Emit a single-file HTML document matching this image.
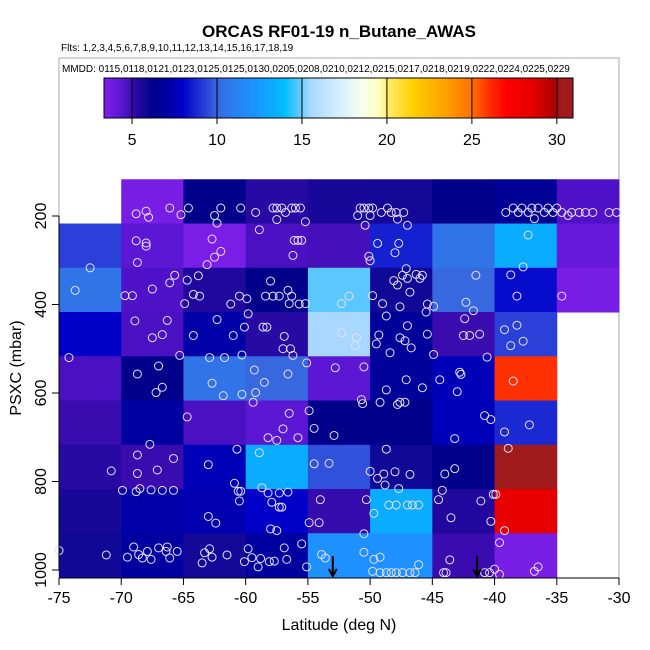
<!DOCTYPE html>
<html><head><meta charset="utf-8">
<style>
html,body{margin:0;padding:0;background:#fff;}
svg{display:block;font-family:"Liberation Sans",sans-serif;}
</style></head>
<body>
<svg id="chart" width="650" height="650" viewBox="0 0 650 650" xmlns="http://www.w3.org/2000/svg">
  <rect width="650" height="650" fill="#fff"/>
  <text x="339" y="37" text-anchor="middle" font-size="17" font-weight="bold">ORCAS RF01-19 n_Butane_AWAS</text>
  <text x="61" y="51" font-size="10">Flts: 1,2,3,4,5,6,7,8,9,10,11,12,13,14,15,16,17,18,19</text>
  <rect x="59" y="58" width="560" height="520" fill="none" stroke="#aaa" stroke-width="1"/>
  <text x="62" y="72" font-size="10">MMDD: 0115,0118,0121,0123,0125,0125,0130,0205,0208,0210,0212,0215,0217,0218,0219,0222,0224,0225,0229</text>
  <g id="colorbar"></g>
  <g id="cells"></g>
  <g id="points"></g>
  <g id="arrows"></g>
  <g id="axes"></g>
  <text transform="translate(21,368) rotate(-90)" text-anchor="middle" font-size="16">PSXC (mbar)</text>
  <text x="339" y="630" text-anchor="middle" font-size="16">Latitude (deg N)</text>
</svg>
<script>
const latEdges = [-75,-70,-65,-60,-55,-50,-45,-40,-35,-30];
const presEdges = [117,217,317,417,517,617,717,817,917,1017];
// cell values: rows top (117) to bottom, columns -75 .. -30
const row0 = [null,3.6,6.2,5.3,5.6,5.7,6.2,6.6,4.6];
const row1 = [9.3,4.3,3.5,4.7,4.8,8.6,10.5,13.3,4.0];
const row2 = [10.5,4.6,5.4,6.2,14.8,5.8,10.0,8.2,3.6];
const row3 = [8.0,4.7,7.2,5.3,15.5,6.8,5.0,9.3,null];
const row4 = [4.7,6.2,10.5,10.0,4.3,6.8,7.6,26,null];
const row5 = [5.0,7.0,4.7,4.3,6.2,6.2,7.6,8.8,null];
const row6 = [5.3,5.0,7.6,13.3,9.6,5.8,6.2,30.5,null];
const row7 = [5.6,7.2,7.4,8.0,5.1,13.3,5.4,28.5,null];
const row8 = [5.8,7.0,5.7,7.0,12,12,5.0,3.6,null];
const cellRows = [row0,row1,row2,row3,row4,row5,row6,row7,row8];
const xTicks = [-75,-70,-65,-60,-55,-50,-45,-40,-35,-30];
const yTicks = [200,400,600,800,1000];
const cbTicks = [5,10,15,20,25,30];
const cbMin = 3.35, cbMax = 30.95;
const arrowLats = [-53.0,-41.4];
const ptLat = [-68.8,-68.0,-67.8,-66.1,-65.2,-64.6,-62.5,-62.3,-62.0,-60.4,-59.2,-57.8,-57.5,-57.1,-56.8,-57.5,-56.3,-56.0,-55.6,-55.2,-50.8,-50.5,-50.1,-49.8,-51.0,-50.0,-50.4,-49.1,-48.6,-48.3,-47.9,-47.3,-47.8,-47.0,-39.1,-38.5,-38.1,-37.8,-37.3,-37.0,-36.8,-36.5,-36.0,-35.7,-35.3,-35.0,-34.6,-34.1,-33.8,-33.2,-32.7,-32.1,-30.8,-30.2,
-68.8,-68.0,-68.0,-68.7,-62.7,-62.0,-62.5,-63.1,-58.9,-56.1,-55.8,-55.5,-56.2,-50.1,-50.0,-49.4,-47.7,-48.0,-37.3,-37.7,-72.5,
-73.7,-69.7,-69.1,-67.5,-66.1,-65.7,-64.7,-63.8,-64.2,-63.7,-64.9,-61.2,-60.5,-59.9,-58.0,-58.4,-57.8,-57.3,-56.6,-56.3,-56.5,-55.7,-55.2,-51.7,-52.3,-49.8,-49.0,-47.6,-48.1,-47.8,-47.4,-47.1,-47.0,-46.8,-46.3,-45.8,-46.0,-45.4,-44.9,-45.5,-41.5,-42.3,-41.7,-38.7,-38.2,-34.6,
-68.9,-66.3,-67.5,-66.7,-65.3,-62.3,-64.2,-61.0,-60.1,-59.8,-58.6,-58.3,-56.9,-57.0,-56.4,-56.2,-52.3,-51.1,-51.2,-48.7,-49.3,-49.5,-47.6,-47.2,-46.7,-47.0,-48.4,-45.4,-44.9,-42.4,-42.5,-42.0,-41.2,-39.2,-38.2,-38.7,-37.7,
-74.2,-68.7,-67.0,-67.2,-66.7,-62.9,-61.7,-60.3,-62.7,-61.8,-60.3,-59.3,-58.5,-59.2,-56.6,-59.4,-55.1,-52.8,-50.5,-47.1,-48.7,-45.8,-49.2,-47.6,-47.2,-47.8,-50.7,-50.6,-44.4,-42.8,-42.7,-43.0,-40.6,-38.5,
-64.7,-56.5,-57.0,-58.2,-57.5,-55.8,-54.9,-54.5,-52.9,-40.8,-40.3,-43.2,-39.2,-37.2,-67.7,
-68.7,-65.8,-70.8,-68.7,-67.1,-60.7,-63.0,-58.9,-54.5,-53.3,-48.7,-50.0,-49.4,-48.9,-48.0,-46.8,-48.8,-43.2,-44.0,-38.9,-60.9,-69.9,-68.8,-68.5,-67.6,-66.7,-65.8,
-60.6,-60.4,-60.5,-58.7,-58.2,-57.3,-56.6,-57.9,-57.3,-57.1,-63.0,-62.4,-58.0,-57.5,-54.9,-54.1,-54.0,-50.3,-49.7,-47.7,-48.5,-47.9,-47.0,-46.6,-46.1,-44.2,-44.5,-41.1,-40.1,-39.9,-43.5,-40.3,-39.2,
-75.0,-71.2,-69.5,-69.0,-68.3,-67.9,-67.6,-67.0,-66.3,-66.4,-66.1,-65.5,-68.6,-63.5,-63.3,-62.9,-62.7,-61.5,-59.8,-60.1,-59.5,-59.0,-58.8,-58.1,-57.7,-56.9,-56.7,-55.5,-55.1,-53.9,-53.6,-50.5,-50.5,-49.7,-49.2,-46.1,-49.8,-49.2,-48.7,-48.3,-47.9,-47.4,-46.8,-46.4,-43.6,-43.9,-44.1,-40.8,-40.4,-40.0,-39.6,-39.6,-36.5,-36.8];
const ptPres = [195,189,203,182,197,182,199,216,182,182,192,182,182,182,192,208,182,182,182,213,182,182,182,182,199,199,221,192,182,192,192,192,207,221,192,182,192,182,192,182,206,182,192,182,192,182,192,199,192,192,192,192,192,192,
256,261,268,305,252,280,293,310,231,255,255,255,289,291,301,262,262,283,243,315,317,
368,380,380,365,351,334,345,335,377,381,398,399,381,387,347,381,381,381,368,381,398,399,398,381,398,380,398,405,346,356,334,319,341,372,332,334,341,399,404,417,334,395,414,333,381,381,
437,436,475,468,515,434,470,470,451,421,451,451,472,500,500,515,464,475,493,426,469,489,475,482,498,448,509,467,513,432,470,470,467,457,447,493,483,
520,557,539,599,587,520,520,514,578,606,603,548,576,599,557,621,532,543,541,570,593,588,621,621,621,626,615,624,570,553,558,597,519,573,
654,646,681,701,707,701,640,680,696,651,660,703,688,672,716,
740,748,776,782,774,727,762,735,760,759,727,777,793,783,778,784,808,771,783,725,804,820,823,816,819,820,820,
822,822,844,814,826,826,824,847,858,858,879,894,907,911,893,893,841,841,872,816,853,853,853,853,853,820,841,844,829,829,882,890,911,
956,966,971,948,973,958,976,950,948,958,973,958,965,984,961,952,971,966,952,981,972,993,974,981,980,950,976,941,993,965,973,960,918,976,971,988,1003,1006,1006,1006,1006,1006,1006,1006,977,1006,1006,1006,1006,998,1010,938,993,1003];

const stops = [[3.4,"#7e1ee8"],[4.2,"#6018d8"],[4.6,"#5012c8"],[5.0,"#3a0cb0"],[5.4,"#20089e"],[5.8,"#100896"],[6.2,"#00008a"],[7.0,"#0000a0"],[8.0,"#0000c8"],[8.6,"#1520d0"],[9.3,"#2a40d8"],[10.0,"#3868e0"],[11.0,"#2a80f0"],[12.0,"#1e90ff"],[13.3,"#0aacff"],[14.0,"#00c0ff"],[14.8,"#5ac8ff"],[15.5,"#a8d8ff"],[17,"#d0ecff"],[18.5,"#f4fff0"],[19.5,"#ffffc0"],[20.2,"#ffe860"],[21.5,"#ffd000"],[23.5,"#ffa000"],[25,"#ff7000"],[26,"#ff3000"],[27,"#ff0000"],[28.5,"#e80000"],[29.8,"#b00000"],[30.3,"#a01c1c"],[31,"#a01c1c"]];
function hex(c){return [1,3,5].map(i=>parseInt(c.substr(i,2),16));}
function cmap(v){
  if(v<=stops[0][0]) return stops[0][1];
  for(let i=1;i<stops.length;i++){
    if(v<=stops[i][0]){
      const a=hex(stops[i-1][1]),b=hex(stops[i][1]);
      const t=(v-stops[i-1][0])/(stops[i][0]-stops[i-1][0]);
      return "rgb("+a.map((x,k)=>Math.round(x+(b[k]-x)*t)).join(",")+")";
    }
  }
  return stops[stops.length-1][1];
}
const X = lat => 59 + (lat + 75) * 560 / 45;
const Y = p => 216 + (p - 200) * 0.4425;
const CB = v => 104 + (v - cbMin) * (573 - 104) / (cbMax - cbMin);
const NS = "http://www.w3.org/2000/svg";
function mk(tag, attrs, parent){
  const e = document.createElementNS(NS, tag);
  for (const k in attrs) e.setAttribute(k, attrs[k]);
  parent.appendChild(e);
  return e;
}
// colorbar
const cb = document.getElementById('colorbar');
for (let v = cbMin; v < cbMax; v += 0.1) {
  const r = mk('rect', {x: CB(v), y: 78, width: CB(v+0.1)-CB(v)+0.4, height: 40, fill: cmap(v+0.05)}, cb);
  
  
}
const cbBorder = mk('rect', {x: 104, y: 78, width: 469, height: 40, fill: 'none', stroke: '#000', 'stroke-width': 1}, cb);


cbTicks.forEach(t => {
  const l = mk('line', {x1: CB(t), x2: CB(t), y1: 78, y2: 124, stroke: '#000', 'stroke-width': 1}, cb);
  
  
  const tx = mk('text', {x: CB(t), y: 145, 'text-anchor': 'middle', 'font-size': 16}, cb);
  tx.textContent = t;
  
  
});
// cells
const cg = document.getElementById('cells');
cellRows.forEach((row, ri) => {
  row.forEach((v, ci) => {
    if (v === null) return;
    const x0 = X(latEdges[ci]), x1 = X(latEdges[ci+1]);
    const y0 = Y(presEdges[ri]), y1 = Y(presEdges[ri+1]);
    const r = mk('rect', {x: x0, y: y0, width: x1-x0+0.5, height: y1-y0+0.5, fill: cmap(v)}, cg);
    
    
  });
});
// points
const pg = document.getElementById('points');
ptLat.forEach((la, i) => {
  const c = mk('circle', {cx: X(la), cy: Y(ptPres[i]), r: 4, fill: 'none', stroke: '#e6e0ff', 'stroke-width': 1}, pg);
  
  
});
// arrows
const ag = document.getElementById('arrows');
arrowLats.forEach(la => {
  const x = X(la);
  const g = mk('path', {d: `M${x},556 L${x},576 M${x-4},569 L${x},576 L${x+4},569`, stroke: '#000', 'stroke-width': 2, fill: 'none'}, ag);
  
  
});
// axes
const ax = document.getElementById('axes');
const xl = mk('line', {x1: X(-75), x2: X(-30), y1: 578, y2: 578, stroke: '#000'}, ax);


xTicks.forEach(t => {
  const l = mk('line', {x1: X(t), x2: X(t), y1: 578, y2: 585, stroke: '#000'}, ax);
  
  
  const tx = mk('text', {x: X(t), y: 603, 'text-anchor': 'middle', 'font-size': 16}, ax);
  tx.textContent = t;
  
  
});
const yl = mk('line', {x1: 59, x2: 59, y1: Y(yTicks[0]), y2: Y(yTicks[yTicks.length-1]), stroke: '#000'}, ax);


yTicks.forEach(t => {
  const l = mk('line', {x1: 52, x2: 59, y1: Y(t), y2: Y(t), stroke: '#000'}, ax);
  
  
  const tx = mk('text', {transform: `translate(46,${Y(t)}) rotate(-90)`, 'text-anchor': 'middle', 'font-size': 16}, ax);
  tx.textContent = t;
  
  
});
</script>
</body></html>
